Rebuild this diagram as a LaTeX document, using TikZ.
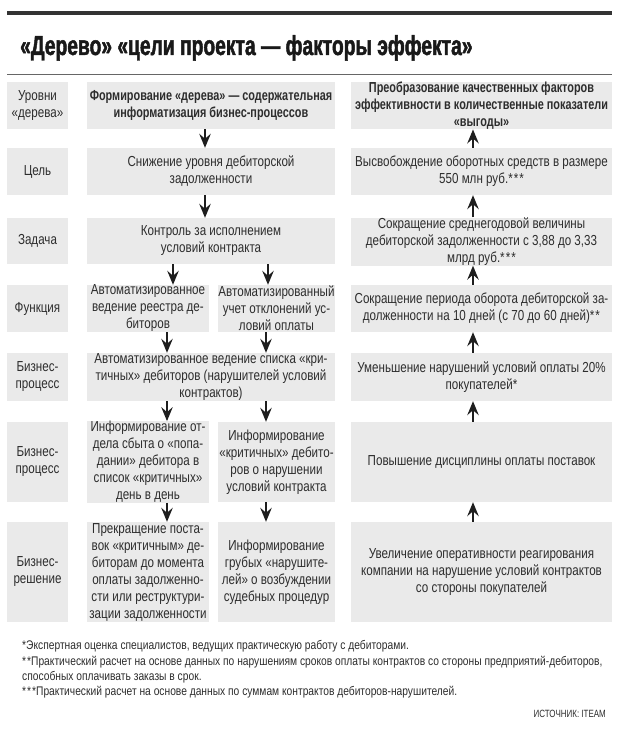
\documentclass[tikz,border=0pt]{standalone}
\usepackage{fontspec}
\setmainfont{Liberation Sans}[FakeStretch=0.80]
\newfontfamily\titlefont{Liberation Sans}[FakeStretch=0.70,FakeBold=1.6]
\newfontfamily\headfont{Liberation Sans}[FakeStretch=0.75]
\newfontfamily\notefont{Liberation Sans}[FakeStretch=0.82]
\newfontfamily\srcfont{Liberation Sans}[FakeStretch=0.76]
\usetikzlibrary{arrows.meta}
\definecolor{boxgray}{RGB}{234,234,234}
\definecolor{txt}{RGB}{45,45,45}
\definecolor{arrc}{RGB}{30,30,30}
\newcommand{\stars}[1]{\ifcase#1\or*\or*\kern1pt*\or*\kern1pt*\kern1pt*\fi}
\begin{document}
\begin{tikzpicture}[x=1pt,y=-1pt,
  box/.style={fill=boxgray, inner sep=0pt, align=center, text=txt, font=\fontsize{14.5}{17}\selectfont},
  hbox/.style={box, font=\headfont\bfseries\fontsize{14.5}{17}\selectfont},
  arr/.style={draw=arrc, line width=1.4pt, -{Stealth[length=14pt,width=11.5pt,inset=5pt]}},
  fn/.style={anchor=base west, inner sep=0pt, text=txt, font=\notefont\fontsize{12.5}{15}\selectfont}]
\useasboundingbox[fill=white] (0,0) rectangle (619,738);
\draw[line width=4pt, draw=black!80] (7,13) -- (612,13);
\node[anchor=base west, inner sep=0pt, text=black!90, font=\titlefont\bfseries\fontsize{27.5}{30}\selectfont] (title) at (20,55) {«Дерево» «цели проекта — факторы эффекта»};
\draw[line width=0.8pt, draw=black!60] (7,74) -- (612,74);
% label column
\node[box, minimum width=61, minimum height=47] (l1) at (37.5,105.5) {Уровни\\«дерева»};
\node[box, minimum width=61, minimum height=47] (l2) at (37.5,171.5) {Цель};
\node[box, minimum width=61, minimum height=46] (l3) at (37.5,241) {Задача};
\node[box, minimum width=61, minimum height=47] (l4) at (37.5,308.5) {Функция};
\node[box, minimum width=61, minimum height=48] (l5) at (37.5,377) {Бизнес-\\процесс};
\node[box, minimum width=61, minimum height=80] (l6) at (37.5,462) {Бизнес-\\процесс};
\node[box, minimum width=61, minimum height=100] (l7) at (37.5,572) {Бизнес-\\решение};
% middle column
\node[hbox, minimum width=248, minimum height=47] (m1) at (211,105.5) {Формирование «дерева» — содержательная\\информатизация бизнес-процессов};
\node[box, minimum width=248, minimum height=47] (m2) at (211,171.5) {Снижение уровня дебиторской\\задолженности};
\node[box, minimum width=248, minimum height=46] (m3) at (211,241) {Контроль за исполнением\\условий контракта};
\node[box, minimum width=122, minimum height=47] (m4a) at (148,308.5) {Автоматизированное\\ведение реестра де-\\биторов};
\node[box, minimum width=117, minimum height=47] (m4b) at (276.5,308.5) {Автоматизированный\\учет отклонений ус-\\ловий оплаты};
\node[box, minimum width=248, minimum height=48] (m5) at (211,377) {Автоматизированное ведение списка «кри-\\тичных» дебиторов (нарушителей условий\\контрактов)};
\node[box, minimum width=122, minimum height=80] (m6a) at (148,462) {Информирование от-\\дела сбыта о «попа-\\дании» дебитора в\\список «критичных»\\день в день};
\node[box, minimum width=117, minimum height=80] (m6b) at (276.5,462) {Информирование\\«критичных» дебито-\\ров о нарушении\\условий контракта};
\node[box, minimum width=122, minimum height=100] (m7a) at (148,572) {Прекращение поста-\\вок «критичным» де-\\биторам до момента\\оплаты задолженно-\\сти или реструктури-\\зации задолженности};
\node[box, minimum width=117, minimum height=100] (m7b) at (276.5,572) {Информирование\\грубых «нарушите-\\лей» о возбуждении\\судебных процедур};
% right column
\node[hbox, minimum width=261, minimum height=47] (r1) at (481.5,105.5) {Преобразование качественных факторов\\эффективности в количественные показатели\\«выгоды»};
\node[box, minimum width=261, minimum height=47] (r2) at (481.5,171.5) {Высвобождение оборотных средств в размере\\550 млн руб.\stars3};
\node[box, minimum width=261, minimum height=48] (r3) at (481.5,241.5) {Сокращение среднегодовой величины\\дебиторской задолженности с 3,88 до 3,33\\млрд руб.\stars3};
\node[box, minimum width=261, minimum height=47] (r4) at (481.5,308.5) {Сокращение периода оборота дебиторской за-\\долженности на 10 дней (с 70 до 60 дней)\stars2};
\node[box, minimum width=261, minimum height=48] (r5) at (481.5,377) {Уменьшение нарушений условий оплаты 20\%\\покупателей\stars1};
\node[box, minimum width=261, minimum height=80] (r6) at (481.5,462) {Повышение дисциплины оплаты поставок};
\node[box, minimum width=261, minimum height=100] (r7) at (481.5,572) {Увеличение оперативности реагирования\\компании на нарушение условий контрактов\\со стороны покупателей};
% arrow columns
\coordinate (xm) at (205,0);
\coordinate (xa) at (173,0);
\coordinate (xb) at (268,0);
\coordinate (xc) at (167,0);
\coordinate (xd) at (266,0);
\coordinate (xr) at (473,0);
\draw[arr] (m1.south -| xm) -- (m2.north -| xm);
\draw[arr] (m2.south -| xm) -- (m3.north -| xm);
\draw[arr] (m3.south -| xa) -- (m4a.north -| xa);
\draw[arr] (m3.south -| xb) -- (m4b.north -| xb);
\draw[arr] (m4a.south -| xc) -- (m5.north -| xc);
\draw[arr] (m4b.south -| xd) -- (m5.north -| xd);
\draw[arr] (m5.south -| xc) -- (m6a.north -| xc);
\draw[arr] (m5.south -| xd) -- (m6b.north -| xd);
\draw[arr] (m6a.south -| xc) -- (m7a.north -| xc);
\draw[arr] (m6b.south -| xd) -- (m7b.north -| xd);
\draw[arr] (r2.north -| xr) -- (r1.south -| xr);
\draw[arr] (r3.north -| xr) -- (r2.south -| xr);
\draw[arr] (r4.north -| xr) -- (r3.south -| xr);
\draw[arr] (r5.north -| xr) -- (r4.south -| xr);
\draw[arr] (r6.north -| xr) -- (r5.south -| xr);
\draw[arr] (r7.north -| xr) -- (r6.south -| xr);
% footnotes
\node[fn] (f1) at (22,649) {\stars1Экспертная оценка специалистов, ведущих практическую работу с дебиторами.};
\node[fn] (f2) at (22,665) {\stars2Практический расчет на основе данных по нарушениям сроков оплаты контрактов со стороны предприятий-дебиторов,};
\node[fn] (f3) at (22,680) {способных оплачивать заказы в срок.};
\node[fn] (f4) at (22,695) {\stars3Практический расчет на основе данных по суммам контрактов дебиторов-нарушителей.};
\node[anchor=base east, inner sep=0pt, text=txt, font=\srcfont\fontsize{10.5}{12}\selectfont] (src) at (606,717) {ИСТОЧНИК: ITEAM};
\end{tikzpicture}
\end{document}
